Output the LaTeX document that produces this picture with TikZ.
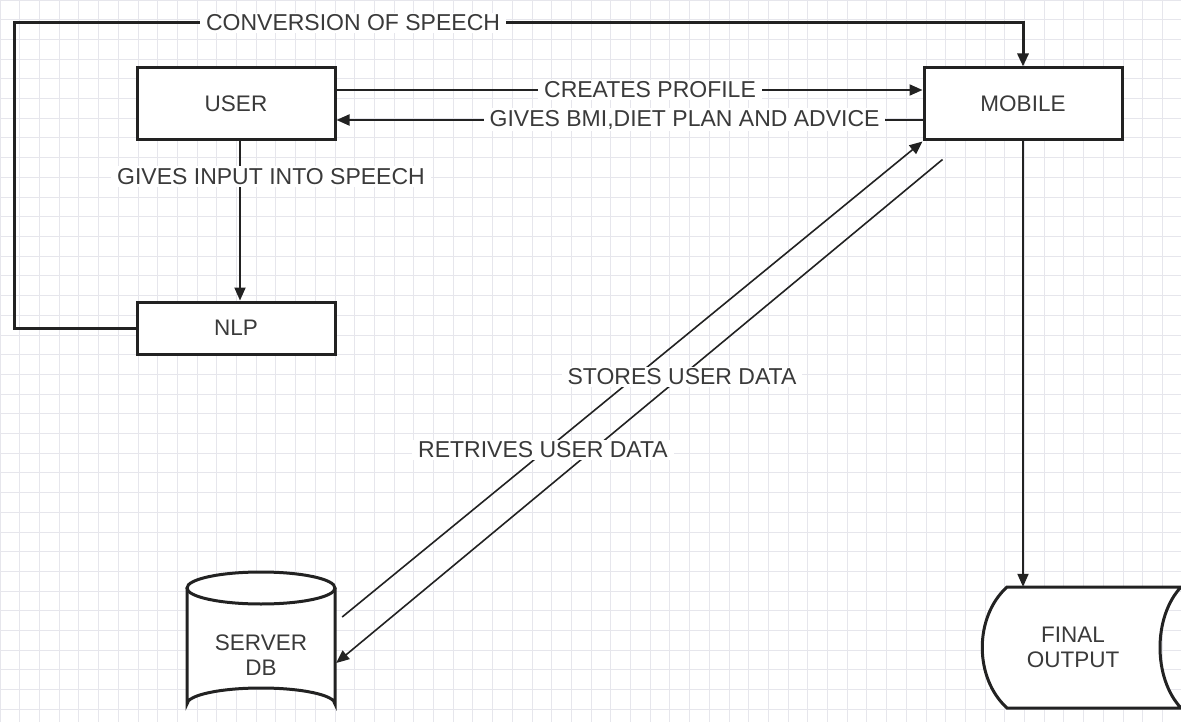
\documentclass[tikz,border=0pt]{standalone}
\usepackage{fontspec}
\setmainfont{Liberation Sans}
\usetikzlibrary{arrows.meta, calc}
\definecolor{clrLine}{HTML}{222222}
\definecolor{clrText}{HTML}{3A3A3A}
\definecolor{clrGrid}{HTML}{E6E6EC}

\begin{document}
\begin{tikzpicture}[x=1pt, y=-1pt,
    box/.style={rectangle, draw=clrLine, fill=white, line width=3pt, minimum width=198pt, minimum height=72pt, font=\fontsize{22.5}{25}\selectfont, text=clrText},
    shapetext/.style={align=center, font=\fontsize{22.5}{25}\selectfont, text=clrText},
    lbl/.style={fill=white, inner xsep=6pt, inner ysep=2pt, font=\fontsize{23}{25}\selectfont, text=clrText},
    conn/.style={-{Triangle[length=13pt, width=11pt]}, line width=2pt, draw=clrLine},
    thinconn/.style={-{Triangle[length=13pt, width=11pt]}, line width=1.6pt, draw=clrLine},
    outline/.style={draw=clrLine, fill=white, line width=3pt},
    gridline/.style={clrGrid, line width=0.8pt},
]

% Canvas and grid
\fill[white] (0,0) rectangle (1181,722);
\useasboundingbox (0,0) rectangle (1181,722);
\foreach \gx in {0,19.7,...,1181} \draw[gridline] (\gx,0) -- (\gx,722);
\foreach \gy in {0,19.7,...,722} \draw[gridline] (0,\gy) -- (1181,\gy);

% Boxes
\node[box] (user) at (236,104) {USER};
\node[box] (mobile) at (1023,104) {MOBILE};
\node[box, minimum height=52pt] (nlp) at (236,328) {NLP};

% Server DB (cylinder)
\draw[outline] (187,588) -- (187,704) arc[start angle=180, end angle=360, x radius=74, y radius=16] -- (335,588);
\draw[outline] (261,588) ellipse[x radius=74, y radius=16];
\node[shapetext, minimum width=148pt] (db) at (261,655) {SERVER\\DB};

% Final output (stored data)
\draw[outline] (1007,587) -- (1181,587) .. controls (1153,617) and (1153,678) .. (1181,708)
    -- (1007,708) .. controls (974,678) and (974,617) .. (1007,587) -- cycle;
\node[shapetext, minimum height=121pt] (fo) at (1073,647.5) {FINAL\\OUTPUT};

% User <-> Mobile
\draw[conn] ([yshift=14pt]user.east) -- node[lbl, pos=0.535] {CREATES PROFILE} ([yshift=14pt]mobile.west);
\draw[conn] ([yshift=-16pt]mobile.west) -- node[lbl, pos=0.406] {GIVES BMI,DIET PLAN AND ADVICE} ([yshift=-16pt]user.east);

% User -> NLP -> Mobile
\draw[conn] ([xshift=4pt]user.south) -- node[lbl, pos=0.22, xshift=31pt] {GIVES INPUT INTO SPEECH} ([xshift=4pt]nlp.north);
\draw[conn, line width=3pt] (nlp.west) -- (14,328) |- node[lbl, pos=0.668] {CONVERSION OF SPEECH} (mobile.north |- 0,23) -- (mobile.north);

% Mobile <-> Server DB
\draw[thinconn] ([xshift=7pt, yshift=38pt]db.east) -- (mobile.south west);
\draw[thinconn] ([xshift=20pt, yshift=-18pt]mobile.south west) -- ([xshift=1pt, yshift=-8pt]db.east);
\node[lbl] (stores) at (682,377) {STORES USER DATA};
\node[lbl] (retrives) at (543,450) {RETRIVES USER DATA};

% Mobile -> Final output
\draw[conn] (mobile.south) -- (mobile.south |- fo.north);

\end{tikzpicture}
\end{document}
